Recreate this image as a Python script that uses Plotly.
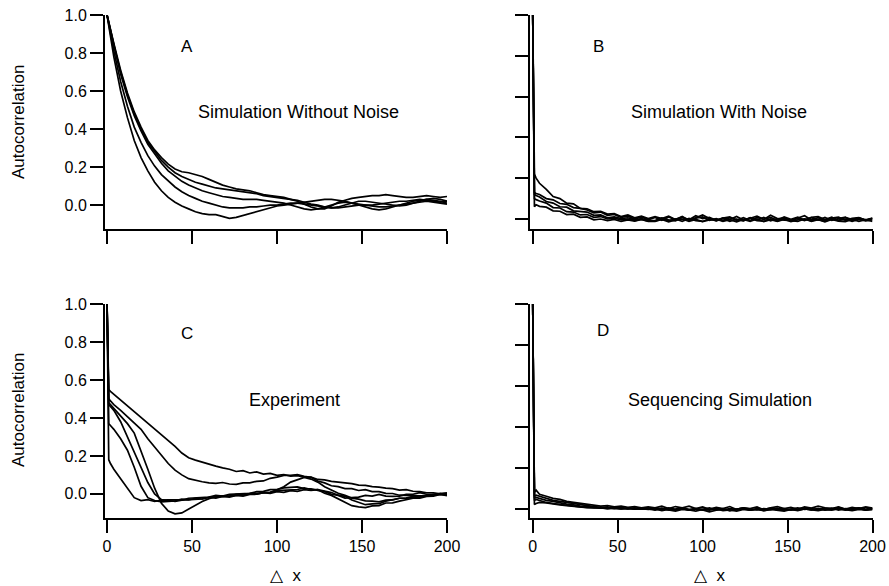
import plotly.graph_objects as go

W, H = 889, 586
FONT = "Liberation Sans, Arial, sans-serif"

# lag grid (Δx)
LAGS = [0, 1, 2, 4, 8, 12, 16, 20, 24, 28,
        32, 36, 40, 44, 48, 52, 56, 60, 64, 68,
        72, 76, 80, 84, 88, 92, 96, 100, 104, 108,
        112, 116, 120, 124, 128, 132, 136, 140, 144, 148,
        152, 156, 160, 164, 168, 172, 176, 180, 184, 188,
        192, 196, 200]

# ---- Panel A: simulation without noise ----
A1 = [1.00, 0.96, 0.92, 0.85, 0.71, 0.59, 0.49, 0.41, 0.34, 0.29,
      0.25, 0.215, 0.19, 0.175, 0.17, 0.16, 0.15, 0.135, 0.12, 0.105,
      0.095, 0.085, 0.08, 0.075, 0.065, 0.055, 0.05, 0.045, 0.04, 0.03,
      0.02, 0.005, -0.01, -0.02, -0.02, -0.005, 0.015, 0.025, 0.035, 0.04,
      0.045, 0.05, 0.05, 0.055, 0.05, 0.045, 0.04, 0.04, 0.045, 0.05,
      0.045, 0.04, 0.045]
A2 = [1.00, 0.96, 0.92, 0.84, 0.70, 0.58, 0.48, 0.40, 0.33, 0.28,
      0.235, 0.20, 0.17, 0.15, 0.135, 0.12, 0.11, 0.10, 0.09, 0.085,
      0.08, 0.075, 0.07, 0.065, 0.06, 0.05, 0.045, 0.04, 0.035, 0.03,
      0.025, 0.015, 0.005, 0.0, -0.01, -0.015, -0.01, 0.0, 0.01, 0.02,
      0.02, 0.015, 0.01, 0.005, 0.0, -0.005, 0.0, 0.01, 0.02, 0.03,
      0.035, 0.03, 0.02]
A3 = [1.00, 0.96, 0.92, 0.84, 0.69, 0.57, 0.47, 0.39, 0.32, 0.27,
      0.22, 0.18, 0.15, 0.125, 0.105, 0.09, 0.075, 0.065, 0.055, 0.045,
      0.04, 0.035, 0.03, 0.03, 0.03, 0.025, 0.02, 0.015, 0.01, 0.0,
      -0.01, -0.02, -0.025, -0.02, -0.01, 0.0, 0.01, 0.015, 0.01, 0.0,
      -0.01, -0.02, -0.025, -0.02, -0.01, 0.0, 0.01, 0.02, 0.025, 0.03,
      0.025, 0.02, 0.01]
A4 = [1.00, 0.95, 0.90, 0.81, 0.65, 0.52, 0.41, 0.33, 0.26, 0.205,
      0.16, 0.125, 0.095, 0.07, 0.05, 0.035, 0.02, 0.01, 0.0, -0.01,
      -0.015, -0.015, -0.015, -0.01, -0.01, -0.005, 0.0, 0.0, 0.005, 0.01,
      0.01, 0.005, 0.0, -0.005, -0.01, -0.015, -0.015, -0.01, -0.005, 0.0,
      0.0, -0.005, -0.01, -0.01, -0.005, 0.0, 0.005, 0.01, 0.015, 0.02,
      0.015, 0.01, 0.005]
A5 = [1.00, 0.94, 0.88, 0.78, 0.60, 0.46, 0.34, 0.25, 0.18, 0.12,
      0.075, 0.04, 0.015, -0.005, -0.02, -0.035, -0.045, -0.05, -0.05, -0.06,
      -0.07, -0.065, -0.055, -0.045, -0.035, -0.025, -0.015, -0.005, 0.0, 0.005,
      0.01, 0.015, 0.02, 0.025, 0.03, 0.03, 0.025, 0.02, 0.01, 0.005,
      0.0, 0.0, 0.005, 0.01, 0.015, 0.02, 0.02, 0.025, 0.03, 0.025,
      0.02, 0.015, 0.02]

# ---- Panel B: simulation with noise ----
B1 = [1.00, 0.22, 0.20, 0.175, 0.145, 0.11, 0.10, 0.078, 0.074, 0.052,
      0.05, 0.036, 0.038, 0.024, 0.026, 0.012, 0.02, 0.006, 0.014, 0.002,
      0.012, 0.002, 0.014, -0.002, 0.01, -0.004, 0.016, 0.002, 0.008, -0.006,
      0.006, -0.003, 0.012, -0.005, 0.004, 0.014, -0.002, 0.008, -0.006, 0.01,
      -0.001, 0.009, -0.005, 0.008, 0.012, -0.003, 0.009, -0.006, 0.007, -0.002,
      0.006, -0.004, 0.004]
B2 = [1.00, 0.13, 0.125, 0.12, 0.10, 0.094, 0.076, 0.072, 0.056, 0.052,
      0.044, 0.03, 0.034, 0.018, 0.022, 0.008, 0.014, 0.0, 0.01, -0.004,
      0.008, -0.006, 0.01, -0.004, 0.012, -0.008, 0.006, 0.02, 0.002, -0.008,
      0.004, 0.01, -0.006, 0.006, -0.008, 0.008, -0.002, 0.018, 0.002, -0.006,
      -0.007, 0.006, 0.016, -0.005, 0.006, -0.008, 0.005, 0.009, -0.006, 0.003,
      0.007, -0.006, 0.004]
B3 = [1.00, 0.12, 0.115, 0.108, 0.086, 0.078, 0.06, 0.058, 0.04, 0.038,
      0.034, 0.018, 0.02, 0.006, 0.01, 0.002, 0.006, -0.004, 0.002, -0.006,
      -0.008, 0.006, -0.004, -0.009, 0.007, -0.006, 0.004, 0.01, -0.007, 0.002,
      -0.009, 0.006, -0.003, -0.008, 0.006, -0.005, 0.008, -0.009, 0.001, 0.006,
      -0.007, 0.003, -0.008, 0.006, -0.005, 0.008, -0.007, 0.002, 0.009, -0.008,
      0.004, -0.006, 0.002]
B4 = [1.00, 0.10, 0.095, 0.088, 0.078, 0.056, 0.054, 0.036, 0.034, 0.02,
      0.022, 0.008, 0.012, 0.0, 0.004, -0.004, 0.0, -0.008, -0.002, -0.01,
      -0.01, 0.002, -0.009, 0.0, -0.011, 0.003, -0.008, -0.012, 0.001, -0.009,
      0.002, -0.011, -0.001, -0.009, 0.004, -0.008, -0.011, 0.001, -0.01, 0.003,
      -0.008, -0.012, 0.0, -0.009, -0.002, -0.011, 0.002, -0.008, -0.001, -0.011,
      -0.002, -0.009, -0.004]
B5 = [1.00, 0.06, 0.07, 0.062, 0.058, 0.04, 0.038, 0.022, 0.024, 0.008,
      0.01, -0.004, 0.0, -0.008, -0.002, -0.012, -0.004, -0.01, -0.002, -0.012,
      -0.012, -0.002, -0.014, -0.004, 0.0, -0.012, -0.002, -0.013, -0.004, -0.001,
      -0.012, -0.003, -0.014, -0.002, -0.011, 0.0, -0.013, -0.003, -0.012, -0.002,
      -0.013, -0.004, 0.0, -0.012, -0.003, -0.014, -0.002, -0.01, -0.013, -0.002,
      -0.011, -0.003, -0.012]

# ---- Panel C: experiment ----
C1 = [1.00, 0.55, 0.54, 0.525, 0.49, 0.465, 0.43, 0.40, 0.37, 0.345,
      0.31, 0.28, 0.25, 0.215, 0.19, 0.178, 0.166, 0.158, 0.146, 0.137,
      0.13, 0.118, 0.122, 0.11, 0.116, 0.104, 0.108, 0.098, 0.102, 0.094,
      0.096, 0.088, 0.088, 0.076, 0.074, 0.066, 0.062, 0.056, 0.054, 0.046,
      0.045, 0.038, 0.036, 0.03, 0.028, 0.02, 0.022, 0.014, 0.012, 0.006,
      0.006, 0.0, 0.002]
C2 = [1.00, 0.50, 0.49, 0.47, 0.44, 0.405, 0.375, 0.34, 0.29, 0.245,
      0.20, 0.16, 0.125, 0.10, 0.08, 0.07, 0.064, 0.058, 0.055, 0.06,
      0.052, 0.05, 0.058, 0.058, 0.066, 0.068, 0.082, 0.088, 0.097, 0.098,
      0.102, 0.093, 0.087, 0.068, 0.058, 0.043, 0.038, 0.028, 0.028, 0.018,
      0.022, 0.012, 0.012, 0.003, 0.002, -0.007, -0.008, -0.012, -0.013, -0.012,
      -0.003, -0.002, -0.004]
C3 = [1.00, 0.48, 0.47, 0.45, 0.41, 0.37, 0.32, 0.23, 0.13, 0.03,
      -0.05, -0.09, -0.105, -0.10, -0.08, -0.06, -0.04, -0.025, -0.015, -0.01,
      -0.012, -0.003, -0.002, 0.002, 0.003, 0.007, 0.008, 0.017, 0.018, 0.022,
      0.023, 0.032, 0.023, 0.022, 0.003, -0.008, -0.027, -0.043, -0.062, -0.068,
      -0.072, -0.063, -0.062, -0.048, -0.047, -0.038, -0.032, -0.023, -0.022, -0.013,
      -0.012, -0.003, -0.01]
C4 = [1.00, 0.47, 0.46, 0.44, 0.38, 0.30, 0.22, 0.14, 0.06, 0.0,
      -0.03, -0.035, -0.04, -0.033, -0.032, -0.028, -0.027, -0.018, -0.022, -0.013,
      -0.017, -0.008, -0.012, -0.003, -0.002, 0.007, 0.008, 0.022, 0.038, 0.062,
      0.073, 0.087, 0.078, 0.062, 0.038, 0.022, 0.003, -0.008, -0.022, -0.028,
      -0.037, -0.038, -0.042, -0.033, -0.032, -0.023, -0.022, -0.013, -0.012, -0.008,
      -0.007, 0.002, -0.005]
C5 = [1.00, 0.37, 0.36, 0.34, 0.29, 0.23, 0.14, 0.04, -0.02, -0.035,
      -0.042, -0.038, -0.037, -0.028, -0.032, -0.023, -0.027, -0.018, -0.017, -0.013,
      -0.012, -0.008, -0.007, 0.002, -0.002, 0.007, 0.003, 0.012, 0.008, 0.017,
      0.013, 0.022, 0.018, 0.022, 0.013, 0.007, -0.007, -0.013, -0.032, -0.043,
      -0.057, -0.053, -0.052, -0.038, -0.032, -0.023, -0.022, -0.018, -0.017, -0.008,
      -0.007, 0.002, -0.002]
C6 = [1.00, 0.18, 0.16, 0.13, 0.08, 0.03, -0.02, -0.035, -0.03, -0.04,
      -0.033, -0.032, -0.033, -0.032, -0.023, -0.022, -0.018, -0.017, -0.008, -0.012,
      -0.003, -0.002, 0.002, 0.003, 0.012, 0.013, 0.022, 0.023, 0.032, 0.033,
      0.037, 0.028, 0.027, 0.018, 0.012, -0.002, -0.008, -0.022, -0.018, -0.017,
      -0.008, -0.012, -0.003, -0.012, -0.013, -0.012, -0.003, -0.002, 0.007, -0.002,
      -0.003, 0.002, 0.005]

# ---- Panel D: sequencing simulation ----
D1 = [1.00, 0.08, 0.09, 0.07, 0.06, 0.05, 0.045, 0.035, 0.03, 0.025,
      0.02, 0.018, 0.012, 0.015, 0.008, 0.012, 0.006, 0.01, 0.004, 0.008,
      0.004, 0.012, 0.0, 0.01, 0.004, 0.012, 0.0, 0.008, -0.004, 0.006,
      0.0, 0.01, -0.004, 0.004, 0.0, 0.008, -0.006, 0.004, 0.01, 0.0,
      0.006, -0.004, 0.008, 0.002, 0.012, 0.004, 0.0, 0.008, -0.002, 0.006,
      0.0, 0.008, 0.002]
D2 = [1.00, 0.06, 0.065, 0.06, 0.05, 0.04, 0.035, 0.03, 0.022, 0.018,
      0.012, 0.01, 0.006, 0.008, 0.002, 0.006, 0.0, 0.004, -0.002, 0.003,
      0.0, -0.006, 0.004, -0.004, 0.002, -0.008, 0.0, -0.004, 0.004, -0.006,
      0.0, -0.01, -0.002, 0.002, -0.008, 0.0, -0.004, 0.002, -0.006, 0.0,
      -0.008, -0.002, 0.004, -0.006, 0.0, -0.004, 0.002, -0.008, 0.0, -0.004,
      0.002, -0.006, 0.0]
D3 = [1.00, 0.05, 0.055, 0.05, 0.04, 0.035, 0.028, 0.022, 0.018, 0.012,
      0.01, 0.006, 0.004, 0.0, 0.003, -0.002, 0.002, -0.003, 0.0, -0.004,
      -0.002, -0.01, -0.004, -0.008, 0.0, -0.006, -0.012, -0.004, -0.008, -0.002,
      -0.01, -0.006, -0.012, -0.004, -0.008, -0.002, -0.01, -0.004, -0.008, -0.012,
      -0.004, -0.008, -0.002, -0.006, -0.01, -0.004, -0.008, 0.0, -0.006, -0.01,
      -0.004, -0.008, -0.004]
D4 = [1.00, 0.04, 0.045, 0.04, 0.03, 0.025, 0.02, 0.016, 0.012, 0.008,
      0.006, 0.003, 0.005, 0.0, 0.002, -0.002, 0.001, -0.003, 0.0, -0.002,
      -0.008, 0.0, -0.006, -0.012, -0.004, -0.008, -0.002, -0.006, -0.016, -0.008,
      -0.004, -0.01, -0.006, -0.002, -0.008, -0.004, -0.01, -0.006, 0.0, -0.008,
      -0.004, -0.01, -0.002, -0.006, 0.0, -0.008, -0.004, -0.002, -0.008, -0.004,
      0.0, -0.006, -0.004]
D5 = [1.00, 0.02, 0.025, 0.03, 0.028, 0.022, 0.018, 0.014, 0.01, 0.008,
      0.004, 0.006, 0.002, 0.004, 0.0, 0.002, -0.002, 0.001, -0.003, 0.0,
      -0.004, 0.002, -0.006, -0.002, 0.004, -0.004, 0.0, -0.008, -0.002, 0.002,
      -0.006, 0.0, -0.004, 0.004, -0.002, -0.006, 0.0, -0.004, 0.002, -0.006,
      -0.002, 0.004, -0.004, 0.0, -0.006, 0.002, -0.002, 0.006, -0.004, 0.0,
      0.004, -0.002, 0.002]

PANELS = [
    ("x", "y", [A1, A2, A3, A4, A5]),
    ("x2", "y2", [B1, B2, B3, B4, B5]),
    ("x3", "y3", [C1, C2, C3, C4, C5, C6]),
    ("x4", "y4", [D1, D2, D3, D4, D5]),
]

X_TICKS = [0, 50, 100, 150, 200]
Y_TICKS = [0.0, 0.2, 0.4, 0.6, 0.8, 1.0]
Y_TICKTEXT = ["0.0", "0.2", "0.4", "0.6", "0.8", "1.0"]

fig = go.Figure()
for xa, ya, curves in PANELS:
    for c in curves:
        fig.add_trace(go.Scatter(x=LAGS, y=c, mode="lines", xaxis=xa, yaxis=ya,
                                 line=dict(color="black", width=1.7),
                                 showlegend=False, hoverinfo="skip"))


def px_x(p):
    return p / W


def px_y(p):
    return 1 - p / H


LEFT_DOM = [px_x(105), px_x(447)]
RIGHT_DOM = [px_x(530), px_x(872.5)]
TOP_DOM = [px_y(229), px_y(15)]
BOT_DOM = [px_y(518), px_y(304)]

tickfont = dict(family=FONT, size=16, color="black")


def xaxis(dom, anchor, labels, rng):
    return dict(domain=dom, anchor=anchor, range=rng, showline=True, linecolor="black",
                linewidth=2, ticks="outside", ticklen=13, tickwidth=2, tickcolor="black",
                tickvals=X_TICKS, showticklabels=labels, showgrid=False, zeroline=False,
                tickfont=tickfont, fixedrange=True, automargin=False)


def yaxis(dom, anchor, labels, rng):
    return dict(domain=dom, anchor=anchor, range=rng, showline=True, linecolor="black",
                linewidth=2, ticks="outside", ticklen=13, tickwidth=2, tickcolor="black",
                tickvals=Y_TICKS, ticktext=Y_TICKTEXT, showticklabels=labels,
                showgrid=False, zeroline=False, tickfont=tickfont, fixedrange=True,
                automargin=False)


fig.update_layout(
    width=W, height=H,
    margin=dict(l=0, r=0, t=0, b=0, pad=0, autoexpand=False),
    paper_bgcolor="white", plot_bgcolor="white",
    xaxis=xaxis(LEFT_DOM, "y", False, [-1.2, 200]),
    yaxis=yaxis(TOP_DOM, "x", True, [-0.126, 1.0]),
    xaxis2=xaxis(RIGHT_DOM, "y2", False, [-1.6, 200]),
    yaxis2=yaxis(TOP_DOM, "x2", False, [-0.049, 1.0]),
    xaxis3=xaxis(LEFT_DOM, "y3", True, [-1.2, 200]),
    yaxis3=yaxis(BOT_DOM, "x3", True, [-0.127, 1.0]),
    xaxis4=xaxis(RIGHT_DOM, "y4", True, [-1.6, 200]),
    yaxis4=yaxis(BOT_DOM, "x4", False, [-0.046, 1.0]),
)

textfont = dict(family=FONT, size=18, color="black")
labelfont = dict(family=FONT, size=17, color="black")
ANNOTS = [
    ("A", 186.5, 47, 0, labelfont), ("B", 598.3, 46.5, 0, labelfont),
    ("C", 186.8, 333, 0, labelfont), ("D", 603.3, 330.5, 0, labelfont),
    ("Simulation Without Noise", 298, 112, 0, textfont),
    ("Simulation With Noise", 718.7, 112, 0, textfont),
    ("Experiment", 294.5, 400, 0, textfont),
    ("Sequencing Simulation", 719.5, 400, 0, textfont),
    ("Autocorrelation", 18, 122, -90, labelfont), ("Autocorrelation", 18, 410, -90, labelfont),
    ("\u25b3  x", 285, 575, 0, labelfont), ("\u25b3  x", 709, 575, 0, labelfont),
]
for text, x, y, ang, f in ANNOTS:
    fig.add_annotation(text=text, x=px_x(x), y=px_y(y), xref="paper", yref="paper",
                       xanchor="center", yanchor="middle", showarrow=False,
                       textangle=ang, font=f)

fig.write_html("out.html")
